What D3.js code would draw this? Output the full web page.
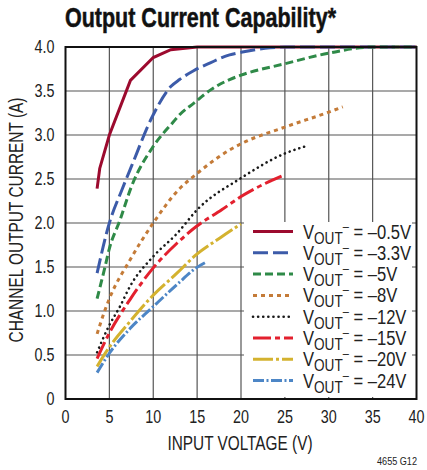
<!DOCTYPE html>
<html>
<head>
<meta charset="utf-8">
<script src="https://cdn.jsdelivr.net/npm/d3@7"></script>
<style>
  body { margin: 0; background: #fff; }
  svg text { font-family: "Liberation Sans", Arial, sans-serif; fill: #222; }
</style>
</head>
<body>
<svg id="chart" width="427" height="470"></svg>
<script>
// input voltage (V) and channel output current (A) per VOUT- curve
var vin05  = [3.6, 3.9, 5, 7.4, 10, 12, 15, 20, 25, 30, 35, 40];
var iout05 = [2.39, 2.62, 3.0, 3.62, 3.88, 3.97, 4.0, 4.0, 4.0, 4.0, 4.0, 4.0];
var vin33  = [3.6, 5, 6.4, 7.5, 10, 12, 13, 14.6, 16.5, 18.7, 20, 23.3, 25, 40];
var iout33 = [1.43, 2.0, 2.37, 2.64, 3.23, 3.55, 3.63, 3.73, 3.82, 3.91, 3.94, 3.99, 4.0, 4.0];
var vin5   = [3.6, 4.5, 5, 6.2, 7.5, 10, 12.3, 13, 14.6, 16.5, 18.7, 20, 25, 30, 35, 40];
var iout5  = [1.14, 1.5, 1.71, 2.03, 2.41, 2.87, 3.15, 3.23, 3.36, 3.51, 3.63, 3.68, 3.81, 3.93, 4.0, 4.0];
var vin8   = [3.6, 4.5, 5, 7.35, 10, 13, 14.6, 18.7, 20, 25, 30, 31.6];
var iout8  = [0.74, 1.01, 1.14, 1.58, 2.0, 2.39, 2.53, 2.83, 2.9, 3.09, 3.26, 3.32];
var vin12  = [3.6, 5, 6.2, 7.35, 10, 12.7, 15, 20, 25, 27.3];
var iout12 = [0.53, 0.84, 1.05, 1.28, 1.62, 1.88, 2.15, 2.51, 2.79, 2.87];
var vin15  = [3.6, 5, 7.35, 10, 12.7, 14.9, 17.8, 20, 25];
var iout15 = [0.46, 0.75, 1.13, 1.49, 1.77, 1.96, 2.15, 2.3, 2.55];
var vin20  = [3.6, 5, 7.35, 10, 12.7, 14.9, 17.6, 20];
var iout20 = [0.37, 0.59, 0.88, 1.18, 1.43, 1.64, 1.83, 1.99];
var vin24  = [3.6, 5, 7.35, 10, 12.7, 14.9, 16.1];
var iout24 = [0.3, 0.52, 0.8, 1.05, 1.3, 1.49, 1.56];

var labels = ["–0.5V", "–3.3V", "–5V", "–8V", "–12V", "–15V", "–20V", "–24V"];
var xTicks = [0, 5, 10, 15, 20, 25, 30, 35, 40];
var yTicks = [0, 0.5, 1.0, 1.5, 2.0, 2.5, 3.0, 3.5, 4.0];

var vins  = [vin05, vin33, vin5, vin8, vin12, vin15, vin20, vin24];
var iouts = [iout05, iout33, iout5, iout8, iout12, iout15, iout20, iout24];

// line styles
var colors = ["#9c0a2e", "#3c5ba9", "#2f8a48", "#c47b38", "#1a1a1a", "#e3202e", "#d4b22f", "#4d86c6"];
var dashes = ["", "15,5", "8,4", "4,4", "0.1,5", "18,4,5,4", "20,3,3,3", "11,2.5,2,2.5"];

var margin = {top: 47, left: 65.5};
var width = 351, height = 352;
var narrow = 0.82; // squeeze to look like a condensed face

var svg = d3.select("#chart");

svg.append("text")
    .attr("x", 65).attr("y", 26.5)
    .attr("textLength", 271).attr("lengthAdjust", "spacingAndGlyphs")
    .style("font-size", "27px").style("font-weight", "bold").style("fill", "#111")
    .style("stroke", "#111").style("stroke-width", 0.5)
    .text("Output Current Capability*");

var g = svg.append("g").attr("transform", "translate(" + margin.left + "," + margin.top + ")");

var x = d3.scaleLinear().domain([0, 40]).range([0, width]);
var y = d3.scaleLinear().domain([0, 4]).range([height, 0]);

// grid
g.selectAll(".gx").data(xTicks.slice(1, -1)).enter().append("line")
    .attr("x1", function(d){ return x(d); }).attr("x2", function(d){ return x(d); })
    .attr("y1", 0).attr("y2", height)
    .attr("stroke", "#555").attr("stroke-width", 1.2);
g.selectAll(".gy").data(yTicks.slice(1, -1)).enter().append("line")
    .attr("y1", function(d){ return y(d); }).attr("y2", function(d){ return y(d); })
    .attr("x1", 0).attr("x2", width)
    .attr("stroke", "#555").attr("stroke-width", 1.2);

// legend background covers the grid
g.append("rect")
    .attr("x", 244 - margin.left).attr("y", 222 - margin.top)
    .attr("width", 412 - 244).attr("height", 397 - 222)
    .attr("fill", "#fff");

// tick labels
g.selectAll(".tx").data(xTicks).enter().append("g")
    .attr("transform", function(d){ return "translate(" + x(d) + "," + (height + 24) + ") scale(" + narrow + ",1)"; })
    .append("text")
    .attr("text-anchor", "middle").style("font-size", "17.5px")
    .text(function(d){ return d; });
g.selectAll(".ty").data(yTicks).enter().append("g")
    .attr("transform", function(d){ return "translate(-11," + y(d) + ") scale(" + narrow + ",1)"; })
    .append("text")
    .attr("dy", "0.36em")
    .attr("text-anchor", "end").style("font-size", "17.5px")
    .text(function(d){ return d === 0 ? "0" : d3.format(".1f")(d); });

// curves
var line = d3.line()
    .x(function(d){ return x(d[0]); })
    .y(function(d){ return y(d[1]); });

vins.forEach(function(v, i) {
    var pts = v.map(function(d, j){ return [d, iouts[i][j]]; });
    line.curve(i === 0 ? d3.curveLinear : d3.curveMonotoneX);
    g.append("path")
        .attr("d", line(pts))
        .attr("fill", "none")
        .attr("stroke", colors[i])
        .attr("stroke-width", i === 4 ? 2.6 : 3)
        .attr("stroke-linecap", i === 4 ? "round" : "butt")
        .attr("stroke-dasharray", dashes[i] || null);
});

// frame
g.append("rect").attr("width", width).attr("height", height)
    .attr("fill", "none").attr("stroke", "#111").attr("stroke-width", 2);

// legend
var rows = g.selectAll(".lg").data(labels).enter().append("g")
    .attr("transform", function(d, i){ return "translate(" + (253 - margin.left) + "," + (231.5 - margin.top + i * 21.3) + ")"; });
rows.append("line")
    .attr("x1", 0).attr("x2", 40)
    .attr("stroke", function(d, i){ return colors[i]; })
    .attr("stroke-width", function(d, i){ return i === 4 ? 2.6 : 3; })
    .attr("stroke-linecap", function(d, i){ return i === 4 ? "round" : "butt"; })
    .attr("stroke-dasharray", function(d, i){ return dashes[i] || null; });
var lt = rows.append("g")
    .attr("transform", "translate(50,7) scale(0.85,1)")
    .append("text").style("font-size", "19.5px");
lt.append("tspan").text("V");
lt.append("tspan").attr("dy", 5).style("font-size", "16px").text("OUT");
lt.append("tspan").attr("dy", -13).style("font-size", "13px").text("–");
lt.append("tspan").attr("dy", 8).text(function(d){ return " = " + d; });

// axis titles
svg.append("text")
    .attr("x", margin.left + width / 2 - 1).attr("y", 450)
    .attr("textLength", 145).attr("lengthAdjust", "spacingAndGlyphs")
    .attr("text-anchor", "middle").style("font-size", "20.5px")
    .text("INPUT VOLTAGE (V)");
svg.append("text")
    .attr("transform", "translate(23,220) rotate(-90)")
    .attr("textLength", 245).attr("lengthAdjust", "spacingAndGlyphs")
    .attr("text-anchor", "middle").style("font-size", "20.5px")
    .text("CHANNEL OUTPUT CURRENT (A)");

svg.append("text")
    .attr("x", 417).attr("y", 465)
    .attr("text-anchor", "end").style("font-size", "11px")
    .attr("textLength", 40).attr("lengthAdjust", "spacingAndGlyphs")
    .text("4655 G12");
</script>
</body>
</html>
